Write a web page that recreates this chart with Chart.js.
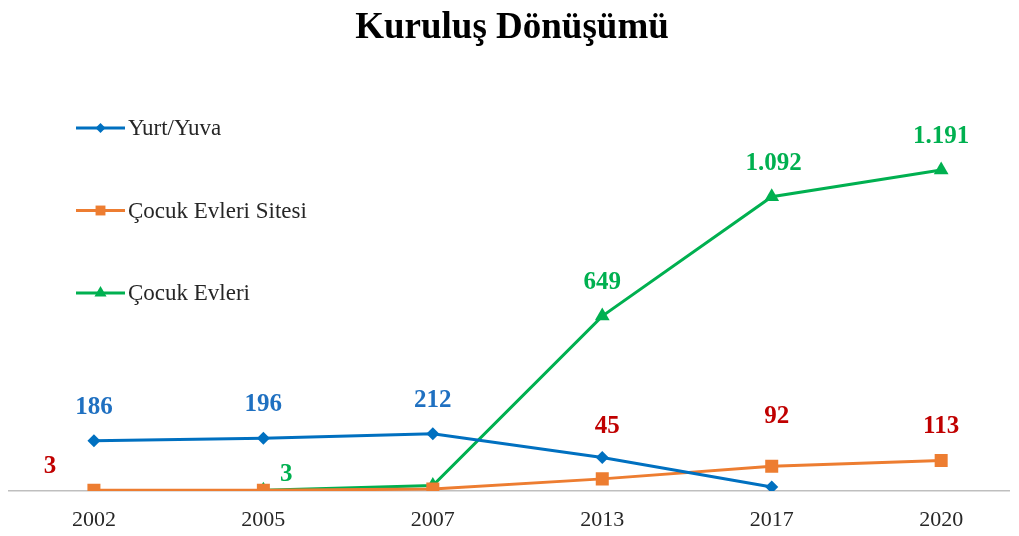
<!DOCTYPE html>
<html>
<head>
<meta charset="utf-8">
<title>Kuruluş Dönüşümü</title>
<script src="https://cdn.jsdelivr.net/npm/chart.js@4/dist/chart.umd.min.js"></script>
<style>
  html, body { margin: 0; background: #fff; }
  #wrap { width: 1019px; height: 536px; position: relative; }
</style>
</head>
<body>
<div id="wrap"><canvas id="chart"></canvas></div>
<script>
var years = ['2002', '2005', '2007', '2013', '2017', '2020'];
var yurtYuva = [186, 196, 212, 124, 15, null];
var cocukEvleriSitesi = [3, 3, 7, 45, 92, 113];
var cocukEvleri = [null, 3, 20, 649, 1092, 1191];

// points that get a value label, per series
var yurtYuvaLabeled = [0, 1, 2];
var sitesiLabeled = [0, 3, 4, 5];
var evleriLabeled = [1, 3, 4, 5];

var serif = "'Liberation Serif', 'Times New Roman', serif";
Chart.defaults.font.family = serif;

function toPoints(values) {
  return values.map(function (v, i) { return { x: i, y: v }; });
}

// 1092 -> "1.092"
function fmt(v) {
  return String(v).replace(/\B(?=(\d{3})+(?!\d))/g, '.');
}

// value labels above the points; offsets are [dx, dy] from the point centre
var valueLabels = {
  id: 'valueLabels',
  afterDatasetsDraw: function (chart) {
    var ctx = chart.ctx;
    ctx.save();
    ctx.font = 'bold 25px ' + serif;
    ctx.textAlign = 'center';
    ctx.textBaseline = 'middle';
    chart.data.datasets.forEach(function (ds, di) {
      var meta = chart.getDatasetMeta(di);
      ctx.fillStyle = ds.labelColor;
      ds.labeled.forEach(function (i) {
        var pt = meta.data[i];
        var off = ds.labelOffsets[i] || [0, -33.5];
        ctx.fillText(fmt(ds.data[i].y), pt.x + off[0], pt.y + off[1]);
      });
    });
    ctx.restore();
  }
};

// legend drawn as line + marker entries down the left side
var sideLegend = {
  id: 'sideLegend',
  afterDraw: function (chart) {
    var ctx = chart.ctx;
    var x = 76, y = 128, rowGap = 82.5;
    ctx.save();
    chart.data.datasets.forEach(function (ds, di) {
      var cy = y + di * rowGap;
      ctx.strokeStyle = ds.borderColor;
      ctx.lineWidth = 3;
      ctx.beginPath();
      ctx.moveTo(x, cy);
      ctx.lineTo(x + 49, cy);
      ctx.stroke();
      ctx.fillStyle = ds.borderColor;
      Chart.helpers.drawPoint(ctx, {
        pointStyle: ds.pointStyle,
        radius: ds.legendRadius,
        rotation: 0,
        borderWidth: 0
      }, x + 24.5, cy);
      ctx.fillStyle = '#262626';
      ctx.font = '23px ' + serif;
      ctx.textAlign = 'left';
      ctx.textBaseline = 'middle';
      ctx.fillText(ds.label, x + 52, cy + 1);
    });
    ctx.restore();
  }
};

new Chart(document.getElementById('chart'), {
  type: 'line',
  data: {
    datasets: [
      {
        label: 'Yurt/Yuva',
        data: toPoints(yurtYuva),
        borderColor: '#0070C0',
        backgroundColor: '#0070C0',
        borderWidth: 3,
        pointStyle: 'rectRot',
        pointRadius: 6.5,
        pointBorderWidth: 0,
        legendRadius: 5,
        labelColor: '#1F70C1',
        labeled: yurtYuvaLabeled,
        labelOffsets: {}
      },
      {
        label: 'Çocuk Evleri Sitesi',
        data: toPoints(cocukEvleriSitesi),
        borderColor: '#ED7D31',
        backgroundColor: '#ED7D31',
        borderWidth: 3,
        pointStyle: 'rect',
        pointRadius: 9.2,
        pointBorderWidth: 0,
        legendRadius: 7,
        labelColor: '#C00000',
        labeled: sitesiLabeled,
        labelOffsets: { 0: [-44, -24], 3: [5, -52], 4: [5, -50] }
      },
      {
        label: 'Çocuk Evleri',
        data: toPoints(cocukEvleri),
        borderColor: '#00B050',
        backgroundColor: '#00B050',
        borderWidth: 3,
        pointStyle: 'triangle',
        pointRadius: 8.5,
        pointBorderWidth: 0,
        legendRadius: 7,
        labelColor: '#00B050',
        labeled: evleriLabeled,
        labelOffsets: { 1: [23, -16], 4: [2, -33.5] }
      }
    ]
  },
  options: {
    responsive: true,
    maintainAspectRatio: false,
    animation: false,
    layout: { padding: { left: 8, right: 3, top: 0, bottom: 4 } },
    plugins: {
      legend: { display: false },
      tooltip: { enabled: false },
      title: {
        display: true,
        text: 'Kuruluş Dönüşümü',
        color: '#000',
        font: { size: 37, weight: 'bold', family: serif },
        padding: { top: 6, bottom: 9.4 }
      }
    },
    scales: {
      x: {
        type: 'linear',
        min: -0.5,
        max: 5.405,
        afterBuildTicks: function (scale) {
          scale.ticks = years.map(function (_, i) { return { value: i }; });
        },
        afterFit: function (scale) {
          // axis line runs the full width, labels sit well inside it
          scale.height = 41;
          scale.paddingLeft = 0;
          scale.paddingRight = 0;
        },
        ticks: {
          color: '#262626',
          font: { size: 22, family: serif },
          padding: 16,
          callback: function (value) { return years[value]; }
        },
        grid: { display: false, drawTicks: false },
        border: { display: true, color: '#BFBFBF', width: 1.5 }
      },
      y: {
        display: false,
        min: 0,
        max: 1600
      }
    }
  },
  plugins: [valueLabels, sideLegend]
});
</script>
</body>
</html>
